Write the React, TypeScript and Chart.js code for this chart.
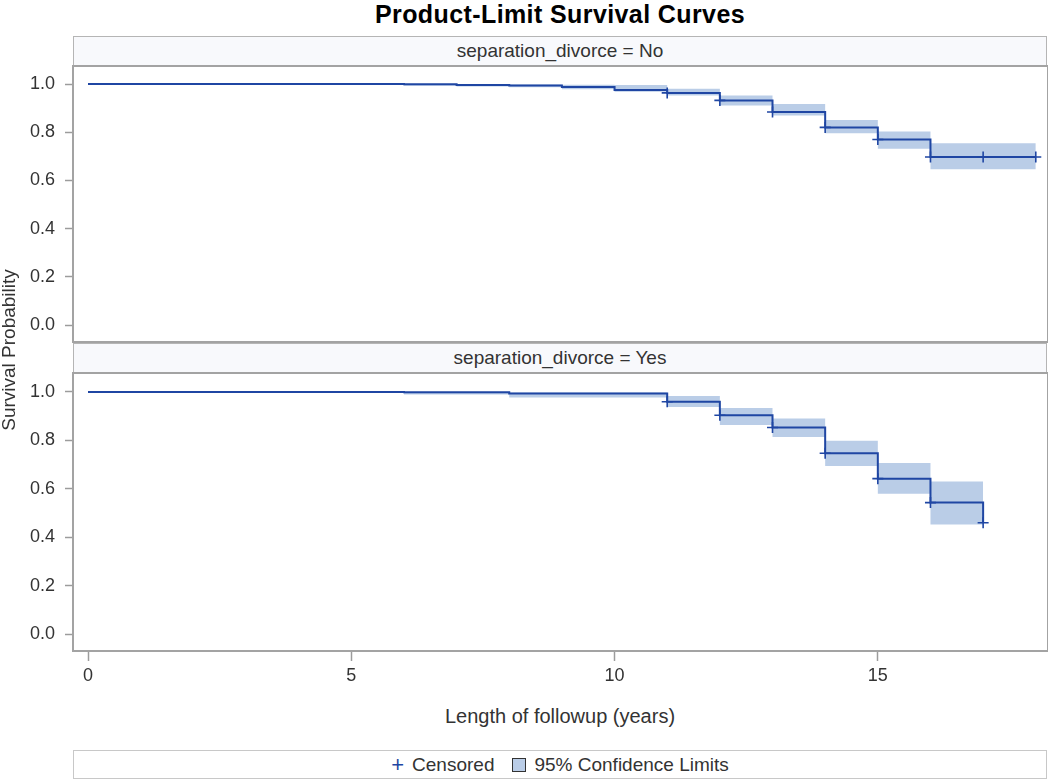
import React, { useEffect, useRef } from "react";
import { Chart, registerables } from "chart.js";

Chart.register(...registerables);

const FONT = "'Liberation Sans', Arial, Helvetica, sans-serif";
const LINE_COLOR = "#1f46a3";
const BAND_COLOR = "rgb(186,205,231)";
const TEXT_COLOR = "#333333";
const AXIS_COLOR = "#9c9c9c";

const titleText = "Product-Limit Survival Curves";
const xTitle = "Length of followup (years)";
const yTitle = "Survival Probability";
const panelLabels = ["separation_divorce = No", "separation_divorce = Yes"];
const legendLabels = ["Censored", "95% Confidence Limits"];

const xTicks = [0, 5, 10, 15];
const yTicks = [0, 0.2, 0.4, 0.6, 0.8, 1.0];

// separation_divorce = No
const noTimes = [0, 6, 7, 8, 9, 10, 11, 12, 13, 14, 15, 16, 18];
const noSurvival = [1.0, 0.999, 0.996, 0.994, 0.988, 0.975, 0.963, 0.932, 0.884, 0.82, 0.77, 0.697, 0.697];
const noBandStarts = [6, 7, 8, 9, 10, 11, 12, 13, 14, 15, 16];
const noBandEnd = 18;
const noUpper = [1.0, 0.999, 0.998, 0.997, 0.996, 0.98, 0.952, 0.917, 0.851, 0.803, 0.754];
const noLower = [0.993, 0.99, 0.987, 0.978, 0.968, 0.952, 0.911, 0.869, 0.796, 0.731, 0.646];
const noCensorTimes = [11, 12, 13, 14, 15, 16, 17, 18];
const noCensorSurv = [0.963, 0.932, 0.884, 0.82, 0.77, 0.697, 0.697, 0.697];

// separation_divorce = Yes
const yesTimes = [0, 6, 8, 11, 12, 13, 14, 15, 16, 17];
const yesSurvival = [1.0, 0.999, 0.994, 0.96, 0.904, 0.853, 0.747, 0.642, 0.543, 0.46];
const yesBandStarts = [6, 8, 11, 12, 13, 14, 15, 16];
const yesBandEnd = 17;
const yesUpper = [1.0, 0.998, 0.983, 0.934, 0.891, 0.799, 0.707, 0.63];
const yesLower = [0.99, 0.977, 0.938, 0.864, 0.814, 0.694, 0.58, 0.453];
const yesCensorTimes = [11, 12, 13, 14, 15, 16, 17];
const yesCensorSurv = [0.96, 0.904, 0.853, 0.747, 0.642, 0.543, 0.46];

const X_MIN = -0.285;
const X_MAX = 18.232;

const framePlugin = {
  id: "frame",
  afterDatasetsDraw(chart: any) {
    const { ctx, chartArea: a } = chart;
    ctx.save();
    ctx.strokeStyle = "#a3a3a3";
    ctx.lineWidth = 2;
    ctx.strokeRect(a.left, a.top, a.right - a.left, a.bottom - a.top);
    ctx.restore();
  },
};

type PanelData = {
  times: number[];
  surv: number[];
  bandStarts: number[];
  bandEnd: number;
  upper: number[];
  lower: number[];
  censorTimes: number[];
  censorSurv: number[];
  yMin: number;
  yMax: number;
  showX: boolean;
};

function bandPoints(starts: number[], end: number, vals: number[]) {
  const pts = starts.map((t, i) => ({ x: t, y: vals[i] }));
  pts.push({ x: end, y: vals[vals.length - 1] });
  return pts;
}

function Panel(props: PanelData & { top: number; height: number }) {
  const ref = useRef<HTMLCanvasElement | null>(null);
  useEffect(() => {
    if (!ref.current) return;
    const p = props;
    const chart = new Chart(ref.current, {
      type: "line",
      data: {
        datasets: [
          {
            label: "Censored",
            data: p.censorTimes.map((t, i) => ({ x: t, y: p.censorSurv[i] })),
            showLine: false,
            pointStyle: "cross",
            pointRadius: 5.5,
            pointBorderWidth: 1.6,
            pointBorderColor: LINE_COLOR,
            pointBackgroundColor: LINE_COLOR,
            borderColor: LINE_COLOR,
          },
          {
            label: "Survival",
            data: p.times.map((t, i) => ({ x: t, y: p.surv[i] })),
            stepped: "before",
            borderColor: LINE_COLOR,
            borderWidth: 2,
            pointRadius: 0,
            fill: false,
          },
          {
            label: "Upper",
            data: bandPoints(p.bandStarts, p.bandEnd, p.upper),
            stepped: "before",
            borderWidth: 0,
            borderColor: "rgba(0,0,0,0)",
            pointRadius: 0,
            fill: false,
          },
          {
            label: "Lower",
            data: bandPoints(p.bandStarts, p.bandEnd, p.lower),
            stepped: "before",
            borderWidth: 0,
            borderColor: "rgba(0,0,0,0)",
            pointRadius: 0,
            fill: "-1",
            backgroundColor: BAND_COLOR,
          },
        ],
      } as any,
      options: {
        responsive: false,
        animation: false,
        events: [],
        layout: {
          autoPadding: false,
          padding: { top: 10, bottom: p.showX ? 0 : 10, left: 0, right: 0 },
        },
        plugins: {
          legend: { display: false },
          tooltip: { enabled: false },
          title: { display: false },
        },
        scales: {
          x: {
            type: "linear",
            min: X_MIN,
            max: X_MAX,
            display: p.showX,
            afterBuildTicks: (ax: any) => {
              ax.ticks = xTicks.map((v) => ({ value: v }));
            },
            afterFit: (s: any) => {
              s.height = p.showX ? 40 : 0;
              s.paddingLeft = 0;
              s.paddingRight = 0;
            },
            grid: {
              drawOnChartArea: false,
              drawTicks: true,
              tickLength: 10,
              tickColor: AXIS_COLOR,
              tickWidth: 1.5,
            },
            border: { display: false },
            ticks: {
              color: TEXT_COLOR,
              font: { family: FONT, size: 18 },
              padding: 4,
              maxRotation: 0,
              autoSkip: false,
              callback: (v: any) => String(v),
            },
          },
          y: {
            type: "linear",
            min: p.yMin,
            max: p.yMax,
            afterBuildTicks: (ax: any) => {
              ax.ticks = yTicks.map((v) => ({ value: v }));
            },
            afterFit: (s: any) => {
              s.width = 73;
              s.paddingTop = 0;
              s.paddingBottom = 0;
            },
            grid: {
              drawOnChartArea: false,
              drawTicks: true,
              tickLength: 8,
              tickColor: AXIS_COLOR,
              tickWidth: 1.5,
            },
            border: { display: false },
            ticks: {
              color: TEXT_COLOR,
              font: { family: FONT, size: 18 },
              padding: 10,
              autoSkip: false,
              callback: (v: any) => Number(v).toFixed(1),
            },
          },
        },
      } as any,
      plugins: [framePlugin],
    });
    return () => chart.destroy();
  }, []);
  return (
    <canvas
      ref={ref}
      width={1048}
      height={props.height}
      style={{ position: "absolute", left: 0, top: props.top, width: 1048, height: props.height }}
    />
  );
}

function Header({ top, text }: { top: number; text: string }) {
  return (
    <div
      style={{
        position: "absolute",
        left: 73,
        top,
        width: 974,
        height: 30,
        boxSizing: "border-box",
        border: "1px solid #b5b5b5",
        background: "#f8f9fc",
        display: "flex",
        alignItems: "center",
        justifyContent: "center",
        font: `19px ${FONT}`,
        color: TEXT_COLOR,
      }}
    >
      {text}
    </div>
  );
}

export default function App() {
  return (
    <div
      style={{
        position: "fixed",
        left: 0,
        top: 0,
        width: 1050,
        height: 781,
        background: "#ffffff",
        overflow: "hidden",
        fontFamily: FONT,
      }}
    >
      <div
        style={{
          position: "absolute",
          left: 73,
          top: 0,
          width: 974,
          lineHeight: "26px",
          textAlign: "center",
          font: `bold 25px ${FONT}`,
          letterSpacing: 0.4,
          color: "#000",
        }}
      >
        {titleText}
      </div>
      <Header top={36} text={panelLabels[0]} />
      <Header top={343} text={panelLabels[1]} />
      <Panel
        top={56}
        height={296}
        times={noTimes}
        surv={noSurvival}
        bandStarts={noBandStarts}
        bandEnd={noBandEnd}
        upper={noUpper}
        lower={noLower}
        censorTimes={noCensorTimes}
        censorSurv={noCensorSurv}
        yMin={-0.0705}
        yMax={1.0747}
        showX={false}
      />
      <Panel
        top={363}
        height={328}
        times={yesTimes}
        surv={yesSurvival}
        bandStarts={yesBandStarts}
        bandEnd={yesBandEnd}
        upper={yesUpper}
        lower={yesLower}
        censorTimes={yesCensorTimes}
        censorSurv={yesCensorSurv}
        yMin={-0.0702}
        yMax={1.0785}
        showX={true}
      />
      <div
        style={{
          position: "absolute",
          left: -140,
          top: 338,
          width: 300,
          height: 24,
          lineHeight: "24px",
          textAlign: "center",
          transform: "rotate(-90deg)",
          font: `19px ${FONT}`,
          color: TEXT_COLOR,
        }}
      >
        {yTitle}
      </div>
      <div
        style={{
          position: "absolute",
          left: 73,
          top: 705,
          width: 974,
          lineHeight: "24px",
          textAlign: "center",
          font: `20px ${FONT}`,
          color: TEXT_COLOR,
        }}
      >
        {xTitle}
      </div>
      <div
        style={{
          position: "absolute",
          left: 73,
          top: 750,
          width: 974,
          height: 29,
          boxSizing: "border-box",
          border: "1px solid #c8c8c8",
          display: "flex",
          alignItems: "center",
          justifyContent: "center",
          font: `19px ${FONT}`,
          color: TEXT_COLOR,
        }}
      >
        <span style={{ color: LINE_COLOR, fontSize: 22, marginRight: 8, lineHeight: "22px" }}>+</span>
        <span>{legendLabels[0]}</span>
        <span
          style={{
            display: "inline-block",
            width: 12,
            height: 12,
            border: "1.5px solid #333",
            background: BAND_COLOR,
            marginLeft: 18,
            marginRight: 8,
          }}
        />
        <span>{legendLabels[1]}</span>
      </div>
    </div>
  );
}
